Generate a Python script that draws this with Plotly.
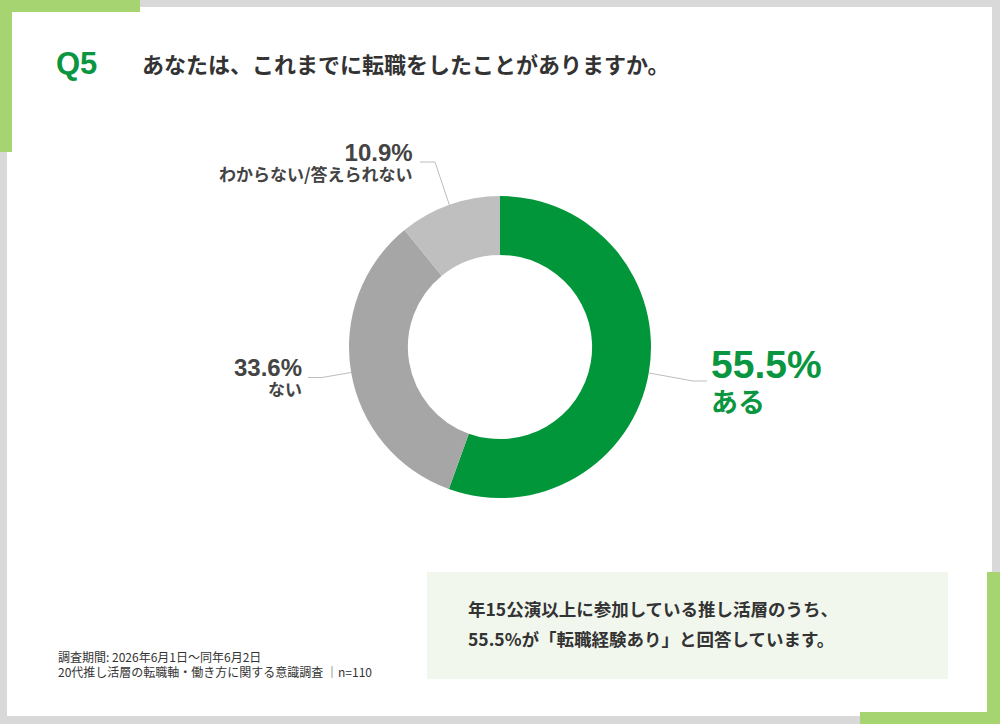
import math
import plotly.graph_objects as go

# ---- data ----
labels = ["ある", "ない", "わからない/答えられない"]
values = [55.5, 33.6, 10.9]
pct_text = ["55.5%", "33.6%", "10.9%"]
colors = ["#009639", "#a6a6a6", "#bfbfbf"]

title_q = "Q5"
title_text = "あなたは、これまでに転職をしたことがありますか。"
note_lines = ["調査期間: 2026年6月1日～同年6月2日",
              "20代推し活層の転職軸・働き方に関する意識調査 │n=110"]
callout_lines = ["年15公演以上に参加している推し活層のうち、",
                 "55.5%が「転職経験あり」と回答しています。"]

W, H = 1000, 724
CX, CY, R = 500, 347, 151
JP = "Noto Sans CJK JP"
LAT = "Liberation Sans"


def px(x):
    return x / W


def py(y):
    return 1 - y / H


fig = go.Figure()

fig.add_trace(go.Pie(
    labels=labels, values=values, hole=0.61, sort=False,
    direction="clockwise", rotation=0,
    marker=dict(colors=colors, line=dict(width=0)),
    textinfo="none", hoverinfo="label+percent", showlegend=False,
    domain=dict(x=[px(CX - R), px(CX + R)], y=[py(CY + R), py(CY - R)]),
))

shapes = []
# frame
shapes.append(dict(type="rect", xref="paper", yref="paper", x0=px(7), x1=px(992), y0=py(716), y1=py(7),
                   fillcolor="white", line=dict(width=0), layer="below"))
LG = "#a5d470"
for (x0, y0, x1, y1) in [(0, 0, 140, 12), (0, 0, 12, 152), (987, 572, 1000, 724), (860, 712, 1000, 724)]:
    shapes.append(dict(type="rect", xref="paper", yref="paper", x0=px(x0), x1=px(x1), y0=py(y1), y1=py(y0),
                       fillcolor=LG, line=dict(width=0), layer="below"))
# callout box
shapes.append(dict(type="rect", xref="paper", yref="paper", x0=px(427), x1=px(948), y0=py(679), y1=py(572),
                   fillcolor="#f2f7ee", line=dict(width=0), layer="below"))

# leader lines: start at slice mid-angle on the outer edge
total = sum(values)
cum = 0
mids = []
for v in values:
    mids.append((cum + v / 2) / total * 2 * math.pi)
    cum += v
bends = [[(693, 381), (707, 381)], [(322, 377.5), (308, 377.5)], [(435, 162), (420, 162)]]
for a, pts in zip(mids, bends):
    sx = CX + R * math.sin(a)
    sy = CY - R * math.cos(a)
    path_pts = [(sx, sy)] + pts
    path = "M " + " L ".join(f"{px(x)},{py(y)}" for x, y in path_pts)
    shapes.append(dict(type="path", xref="paper", yref="paper", path=path,
                       line=dict(color="#bdbdbd", width=1)))

ann = []


def A(x, y, text, size, color, xanchor="left", font=JP):
    ann.append(dict(x=px(x), y=py(y), xref="paper", yref="paper", text=text, showarrow=False,
                    xanchor=xanchor, yanchor="middle", align=xanchor,
                    font=dict(size=size, color=color, family=font)))


def label_block(pct, lab, psize, lsize):
    return (f"<span style='font-family:{LAT};font-size:{psize}px'><b>{pct}</b></span><br>"
            f"<span style='font-size:{lsize}px'><b>{lab}</b></span>")


A(54, 63, "<b>Q5</b>", 31, "#0a9640", font=LAT)
A(140, 63, "<b>" + title_text + "</b>", 22, "#333333")

# slice labels (value + category stacked in one text block)
A(709, 381, label_block(pct_text[0], labels[0], 39, 27), 26, "#0a9640")
A(304, 377, label_block(pct_text[1], labels[1], 24, 17), 15, "#444444", "right")
A(415, 162, label_block(pct_text[2], labels[2], 24, 17), 15.5, "#444444", "right")

# callout
A(466, 608, "<b>" + callout_lines[0] + "</b>", 17.5, "#333333")
A(466, 638, "<b>" + callout_lines[1] + "</b>", 17.5, "#333333")

# footnote
A(56, 656, note_lines[0], 12, "#333333")
A(56, 671, note_lines[1], 12, "#333333")

fig.update_layout(
    width=W, height=H, margin=dict(l=0, r=0, t=0, b=0),
    paper_bgcolor="#d9d9d9", plot_bgcolor="white",
    shapes=shapes, annotations=ann,
)

fig.write_html("out.html")
